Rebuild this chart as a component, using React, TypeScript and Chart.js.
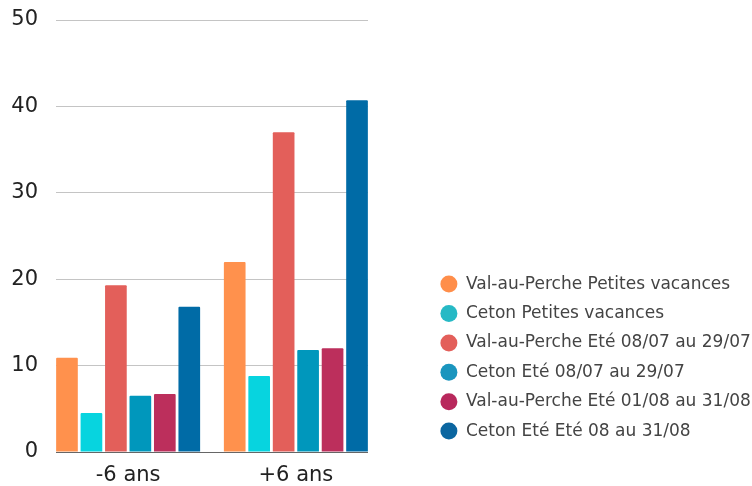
import React, { useEffect, useRef } from 'react';
import { Chart, registerables } from 'chart.js';

Chart.register(...registerables);

const categories = ['-6 ans', '+6 ans'];
const seriesNames = [
  'Val-au-Perche Petites vacances',
  'Ceton Petites vacances',
  'Val-au-Perche Eté 08/07 au 29/07',
  'Ceton Eté 08/07 au 29/07',
  'Val-au-Perche Eté 01/08 au 31/08',
  'Ceton Eté Eté 08 au 31/08',
];
const valPetitesVacances = [10.9, 22.0];
const cetonPetitesVacances = [4.5, 8.8];
const valEteJuillet = [19.3, 37.0];
const cetonEteJuillet = [6.5, 11.8];
const valEteAout = [6.7, 12.0];
const cetonEteAout = [16.8, 40.7];
const seriesValues = [
  valPetitesVacances,
  cetonPetitesVacances,
  valEteJuillet,
  cetonEteJuillet,
  valEteAout,
  cetonEteAout,
];
const barColors = ['#FF914D', '#07D4DF', '#E35F5A', '#0097BC', '#BC2F5C', '#006BA6'];
const legendColors = ['#FF8E4A', '#26B9C5', '#E35F5A', '#1A95BE', '#B8285C', '#0B66A0'];
const yTickValues = [0, 10, 20, 30, 40, 50];

const FONT = '"DejaVu Sans", sans-serif';

export default function App() {
  const ref = useRef<HTMLCanvasElement | null>(null);

  useEffect(() => {
    document.body.style.margin = '0';
    const canvas = ref.current;
    if (!canvas) return;
    const chart = new Chart(canvas, {
      type: 'bar',
      data: {
        datasets: seriesValues.map((vals, i) => ({
          label: seriesNames[i],
          data: vals.map((v, k) => ({ x: k, y: v })),
          backgroundColor: barColors[i],
          borderWidth: 0,
          borderRadius: 1,
          categoryPercentage: 0.875,
          barPercentage: 0.886,
        })),
      },
      options: {
        animation: false,
        responsive: false,
        maintainAspectRatio: false,
        layout: { padding: { top: 20, left: 11, right: 0, bottom: 0 } },
        plugins: {
          tooltip: { enabled: false },
          legend: {
            position: 'right',
            align: 'end',
            fullSize: false,
            maxWidth: 324,
            labels: {
              usePointStyle: true,
              pointStyle: 'circle',
              pointStyleWidth: 17,
              boxHeight: 12,
              padding: 12.4,
              color: '#444444',
              font: { family: FONT, size: 17 },
              generateLabels: () =>
                seriesNames.map((name, i) => ({
                  text: name,
                  fillStyle: legendColors[i],
                  strokeStyle: legendColors[i],
                  lineWidth: 0,
                  pointStyle: 'circle',
                  hidden: false,
                  datasetIndex: i,
                  fontColor: '#444444',
                })),
            },
          },
        },
        scales: {
          x: {
            type: 'linear',
            min: -0.43,
            max: 1.43,
            offset: false,
            grid: { display: false, drawTicks: false },
            border: { display: false },
            afterBuildTicks: (scale: any) => {
              scale.ticks = categories.map((_, k) => ({ value: k }));
            },
            afterFit: (scale: any) => {
              scale.paddingLeft = 0;
              scale.paddingRight = 0;
              scale.height = 34;
            },
            ticks: {
              padding: 11,
              color: '#222222',
              font: { family: FONT, size: 21 },
              callback: (v: any) => categories[Math.round(Number(v))] ?? '',
            },
          },
          y: {
            min: 0,
            max: 50,
            afterBuildTicks: (scale: any) => {
              scale.ticks = yTickValues.map((v) => ({ value: v }));
            },
            afterFit: (scale: any) => {
              scale.width = 45;
              scale.paddingTop = 0;
              scale.paddingBottom = 0;
            },
            grid: {
              drawTicks: false,
              color: (ctx: any) => (ctx.tick && ctx.tick.value === 0 ? '#666666' : '#C4C4C4'),
              lineWidth: 1,
            },
            border: { display: false },
            ticks: {
              padding: 18,
              color: '#222222',
              font: { family: FONT, size: 21 },
            },
          },
          y2: {
            position: 'right',
            display: true,
            grid: { display: false, drawTicks: false },
            border: { display: false },
            ticks: { display: false },
            afterFit: (scale: any) => {
              scale.width = 60;
            },
          },
        },
      },
    });
    return () => chart.destroy();
  }, []);

  return (
    <div style={{ width: 752, height: 486, position: 'relative' }}>
      <canvas ref={ref} width={752} height={486} style={{ display: 'block' }} />
    </div>
  );
}
